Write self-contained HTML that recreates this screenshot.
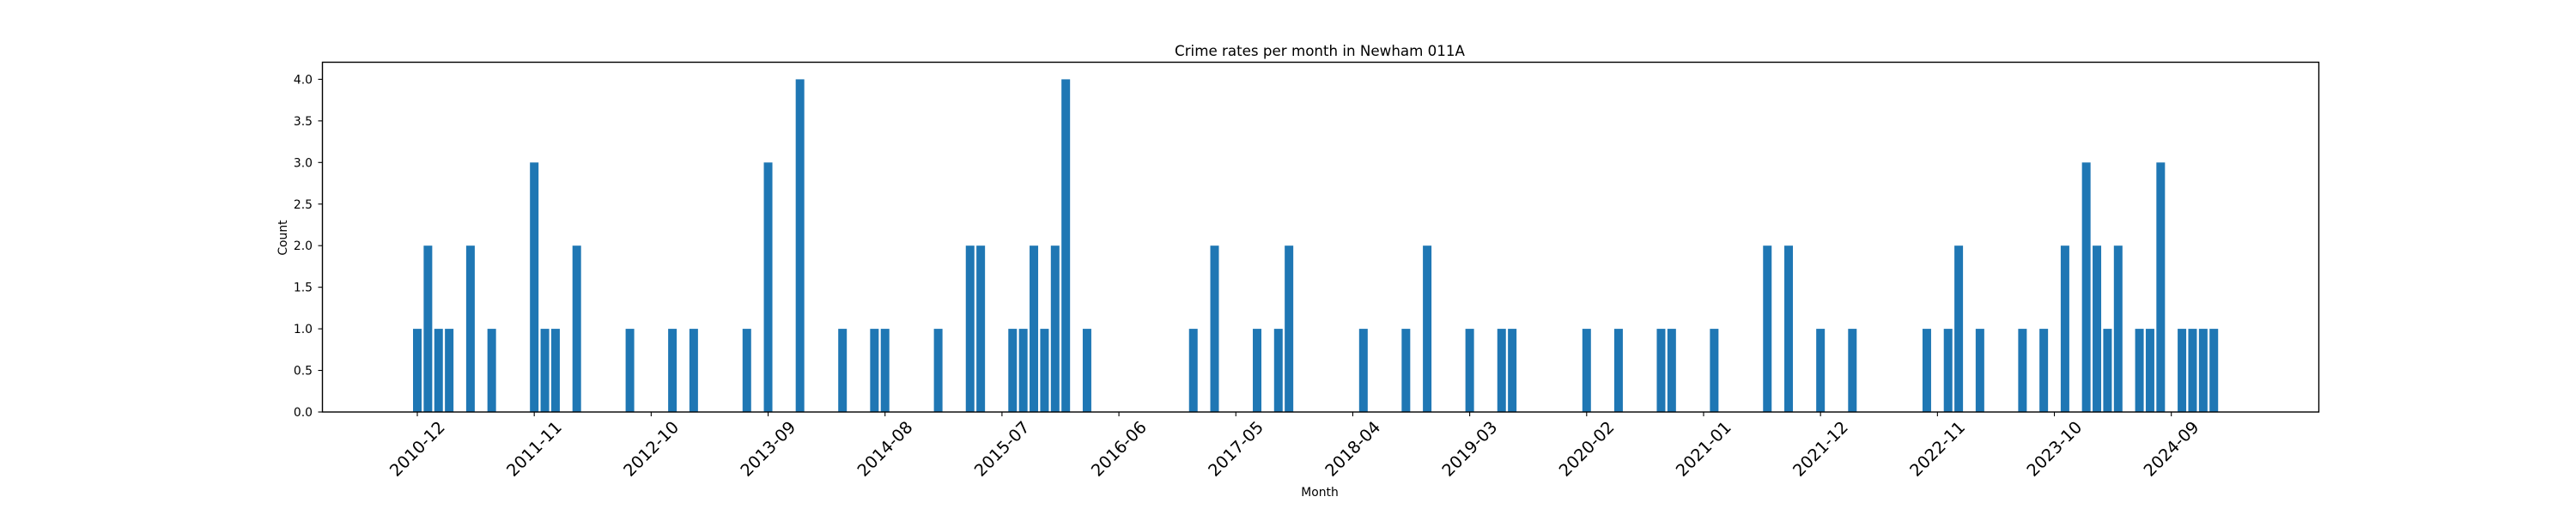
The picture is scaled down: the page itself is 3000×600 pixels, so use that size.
<!DOCTYPE html>
<html><head><meta charset="utf-8"><style>
body{margin:0;background:#fff;}
svg{display:block;font-family:"DejaVu Sans","Liberation Sans",sans-serif;}
</style></head><body>
<svg id="chart" width="3000" height="600" viewBox="0 0 3000 600" xmlns="http://www.w3.org/2000/svg">
<rect width="3000" height="600" fill="#fff"/>
<text x="1537" y="65" font-size="16.7" text-anchor="middle">Crime rates per month in Newham 011A</text>
<text x="1537" y="578" font-size="13.9" text-anchor="middle">Month</text>
<text x="334" y="277" font-size="13.9" text-anchor="middle" transform="rotate(-90 334 277)">Count</text>
<g id="bars"></g>
<g id="yticks"></g>
<g id="xticks"></g>
<rect x="375.5" y="72.5" width="2325" height="407.5" fill="none" stroke="#000" stroke-width="1.4"/>
</svg>
<script>
const months = ["2010-12","2011-01","2011-02","2011-03","2011-05","2011-07","2011-11","2011-12","2012-01","2012-03","2012-08","2012-12","2013-02","2013-07","2013-09","2013-12","2014-04","2014-07","2014-08","2015-01","2015-04","2015-05","2015-08","2015-09","2015-10","2015-11","2015-12","2016-01","2016-03","2017-01","2017-03","2017-07","2017-09","2017-10","2018-05","2018-09","2018-11","2019-03","2019-06","2019-07","2020-02","2020-05","2020-09","2020-10","2021-02","2021-07","2021-09","2021-12","2022-03","2022-10","2022-12","2023-01","2023-03","2023-07","2023-09","2023-11","2024-01","2024-02","2024-03","2024-04","2024-06","2024-07","2024-08","2024-10","2024-11","2024-12","2025-01"];
const counts = [1,2,1,1,2,1,3,1,1,2,1,1,1,1,3,4,1,1,1,1,2,2,1,1,2,1,2,4,1,1,2,1,1,2,1,1,2,1,1,1,1,1,1,1,1,2,2,1,1,1,1,2,1,1,1,2,3,2,1,2,1,1,3,1,1,1,1];
const xTickLabels = ["2010-12","2011-11","2012-10","2013-09","2014-08","2015-07","2016-06","2017-05","2018-04","2019-03","2020-02","2021-01","2021-12","2022-11","2023-10","2024-09"];
const yTickLabels = ["0.0","0.5","1.0","1.5","2.0","2.5","3.0","3.5","4.0"];

const NS = "http://www.w3.org/2000/svg";
const X0 = 486, PXM = 12.38, Y0 = 480, PXU = 96.9;
function mIdx(s){const [y,m]=s.split("-").map(Number);return (y-2010)*12+(m-12);}
function xs(s){return X0 + mIdx(s)*PXM;}
function ys(v){return Y0 - v*PXU;}
function mk(tag, attrs){const e=document.createElementNS(NS,tag);for(const k in attrs)e.setAttribute(k,attrs[k]);return e;}

const bars=document.getElementById('bars');
months.forEach((m,i)=>{
  const w=10, x=xs(m)-w/2, y=ys(counts[i]);
  const r=mk('rect',{x:x,y:y,width:w,height:Y0-y,fill:'#1f77b4'});
  
  
  bars.appendChild(r);
});
const yt=document.getElementById('yticks');
yTickLabels.forEach(l=>{
  const y=ys(parseFloat(l));
  const t=mk('line',{x1:370.5,x2:375.5,y1:y,y2:y,stroke:'#000','stroke-width':1.1});
  
  
  yt.appendChild(t);
  const tx=mk('text',{x:364,y:y+5,'font-size':13.9,'text-anchor':'end'});
  
  
  tx.textContent=l; yt.appendChild(tx);
});
const xt=document.getElementById('xticks');
xTickLabels.forEach(l=>{
  const x=xs(l);
  const t=mk('line',{x1:x,x2:x,y1:480,y2:485,stroke:'#000','stroke-width':1.1});
  
  
  xt.appendChild(t);
  const cy=523;
  const tx=mk('text',{x:x,y:cy,'font-size':19.4,'text-anchor':'middle','dominant-baseline':'central',transform:'rotate(-45 '+x+' '+cy+')'});
  
  
  tx.textContent=l; xt.appendChild(tx);
});
</script>
</body></html>
